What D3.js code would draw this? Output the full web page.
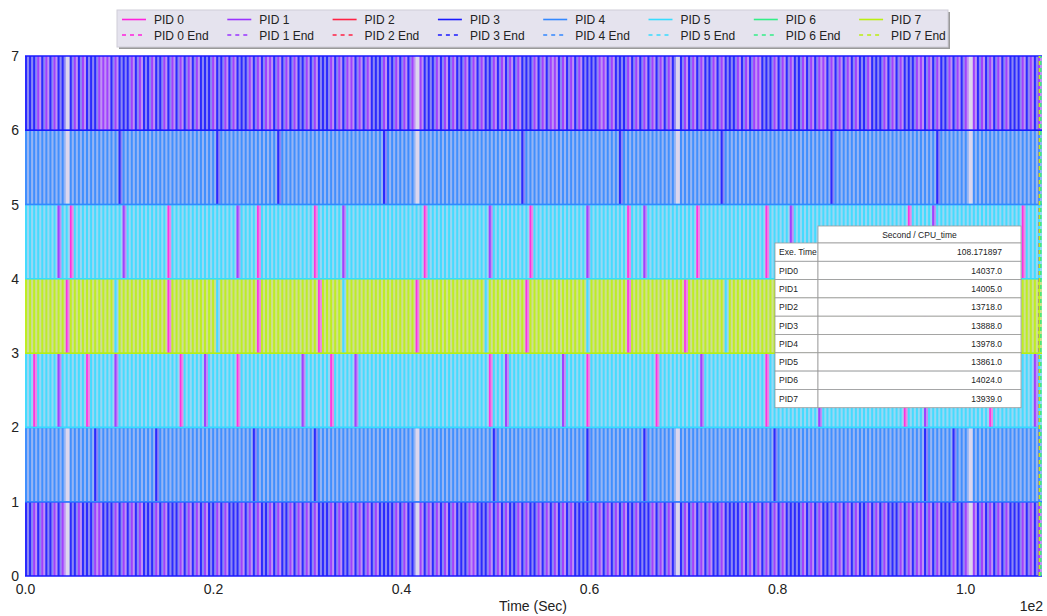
<!DOCTYPE html>
<html>
<head>
<meta charset="UTF-8">
<title>PID schedule</title>
<script src="https://cdn.jsdelivr.net/npm/d3@7"></script>
<style>
  body { margin: 0; background: #fff; }
  text { font-family: "Liberation Sans", Arial, Helvetica, sans-serif; fill: #222; }
</style>
</head>
<body>
<div id="app"></div>
<script>
    // processes and their colours
    var pids = ["PID 0", "PID 1", "PID 2", "PID 3", "PID 4", "PID 5", "PID 6", "PID 7"];
    var pidColors = ["#ff22dd", "#9933ff", "#ff2244", "#1a1aff", "#3388ff", "#36dcff", "#33ee88", "#bbee11"];

    // total run time (sec) and end time of each pid
    var exeTime = 108.171897;
    var endTimes = [107.9, 107.95, 107.9, 107.95, 107.9, 107.95, 108.05, 107.9];

    // time slices per level band (0-1 ... 6-7); digit = pid that ran, "." = idle
    var bandRuns = [
        "3313133131 .331333113 3313131313 3313133313 1313133131 3331313133 1313313131 3133313133 1313131333 313133.131 3131313331 1333131313 3131331313 1313133331 3131313133 1333131313 .313131313 3133331313 1313131333 3131313313 1313133131 3133313131 1313133313 31.1313131 3133313131",
        "4444444444 .444444344 4444444444 4434444444 4444444444 4444443444 4444444444 4344444444 4444444444 444444.444 4444444444 4444434444 4444444444 4444444434 4444444444 4434444444 .444444444 4444444444 4444344444 4444444444 4444444444 4444444444 4344444434 44.4444444 4444444444",
        "5505555515 5555505555 5515555555 5555555505 5555155555 5505555555 5555555515 5555505555 5155555555 5555555555 5555555555 5555055515 5555555555 5515555505 5555555555 5555505555 5555551555 5555555555 5505555555 5555515555 5555555555 5555550555 5155555555 5555555055 5555555515",
        "7777777777 0777777777 7757777777 7777707777 7777777577 7777777077 7777777777 7707777757 7777777777 7777770777 7777777777 7775777777 7770777777 7777777757 7777777707 7777777777 7707777777 7757777777 7777707777 7777777777 7777777077 7777757777 7077777777 7777777777 7777777777",
        "5555555515 5055555555 5555155555 5555505555 5555555555 5515555055 5555555555 5055555515 5555555555 5555555505 5555555555 5555155555 5555055555 5555555515 5555555505 5515555555 5555505555 5555555555 5505555515 5555555555 5555555555 5555555055 5551555555 5555555555 5555505555",
        "4444444444 .444444444 4443444444 4444444444 4444444344 4444444444 4434444444 4444444444 4444444434 444444.444 4444444444 4444444444 4434444444 4444444444 4444443444 4444444444 .444444444 4344444444 4444444444 4444444434 4444444444 4444444444 4444344444 44.4444444 4444444444",
        "3331313133 .313133311 1313331313 3133131313 1313331331 3133313131 1313131331 3133313131 1313133313 313131.133 3131313313 1313313131 3133313131 1313131333 3113133313 1313131313 .313131331 3133313131 1333131313 3131311313 1313133133 3131313331 1313133131 31.1313131 3133313131"
    ];

    // table beside the plot
    var tableHeader = "Second / CPU_time";
    var tableLabels = ["Exe. Time", "PID0", "PID1", "PID2", "PID3", "PID4", "PID5", "PID6", "PID7"];
    var tableValues = ["108.171897", "14037.0", "14005.0", "13718.0", "13888.0", "13978.0", "13861.0", "14024.0", "13939.0"];

    var xTicks = [0, 20, 40, 60, 80, 100];
    var yTicks = [0, 1, 2, 3, 4, 5, 6, 7];

    var width = 1047, height = 616;
    var svg = d3.select("#app").append("svg")
        .attr("width", width)
        .attr("height", height);

    var x = d3.scaleLinear().domain([0, exeTime]).range([25, 1042]);
    var y = d3.scaleLinear().domain([0, 7]).range([576, 56]);

    // plot background
    svg.append("rect")
        .attr("x", x(0)).attr("y", y(7))
        .attr("width", x(exeTime) - x(0)).attr("height", y(0) - y(7))
        .attr("fill", "#dcd6ee");

    // slices
    bandRuns.forEach(function (run, band) {
        var seq = run.replace(/ /g, "").split("");
        var slot = exeTime / seq.length;
        var slices = seq.map(function (c, i) {
            return { pid: c === "." ? -1 : +c, t0: i * slot, t1: (i + 1) * slot };
        }).filter(function (d) { return d.pid >= 0; });

        var g = svg.append("g");
        g.selectAll("rect").data(slices).enter().append("rect")
            .attr("x", function (d) { return x(d.t0); })
            .attr("width", function (d) { return x(d.t1) - x(d.t0); })
            .attr("y", y(band + 1))
            .attr("height", y(band) - y(band + 1))
            .attr("fill", function (d) { return pidColors[d.pid]; })
            .attr("fill-opacity", 0.42);
        g.selectAll("line").data(slices).enter().append("line")
            .attr("x1", function (d) { return x(d.t0) + 1; })
            .attr("x2", function (d) { return x(d.t0) + 1; })
            .attr("y1", y(band + 1))
            .attr("y2", y(band))
            .attr("stroke", function (d) { return pidColors[d.pid]; })
            .attr("stroke-width", function (d) { return d.pid === 0 ? 1.6 : 2; })
            .attr("stroke-opacity", 0.85);
        // square-wave edges
        var main = d3.rollups(slices, function (v) { return v.length; }, function (d) { return d.pid; })
            .sort(function (a, b) { return b[1] - a[1]; })[0][0];
        [band, band + 1].forEach(function (lv) {
            g.append("line")
                .attr("x1", x(0)).attr("x2", x(exeTime))
                .attr("y1", y(lv)).attr("y2", y(lv))
                .attr("stroke", pidColors[main])
                .attr("stroke-width", 1.5);
        });
    });

    // end markers
    svg.append("g").selectAll("line").data(endTimes).enter().append("line")
        .attr("x1", function (d) { return x(d); })
        .attr("x2", function (d) { return x(d); })
        .attr("y1", y(0)).attr("y2", y(7))
        .attr("stroke", function (d, i) { return pidColors[i]; })
        .attr("stroke-width", 1.5)
        .attr("stroke-dasharray", "4,3");

    // axes
    var xAxis = svg.append("g")
        .attr("transform", "translate(0," + y(0) + ")")
        .call(d3.axisBottom(x).tickValues(xTicks).tickSize(0).tickPadding(8)
            .tickFormat(function (d) { return (d / 100).toFixed(1); }));
    var yAxis = svg.append("g")
        .attr("transform", "translate(" + x(0) + ",0)")
        .call(d3.axisLeft(y).tickValues(yTicks).tickSize(0).tickPadding(6)
            .tickFormat(d3.format("d")));
    [xAxis, yAxis].forEach(function (a) {
        a.select(".domain").remove();
        a.selectAll("text").attr("font-size", 14).style("fill", "#222")
            .attr("font-family", "Liberation Sans, Arial, sans-serif");
    });

    svg.append("text").attr("x", 533).attr("y", 611)
        .attr("text-anchor", "middle").attr("font-size", 14)
        .text("Time (Sec)");
    svg.append("text").attr("x", 1043).attr("y", 611)
        .attr("text-anchor", "end").attr("font-size", 14)
        .text("1e2");

    // legend
    var lg = svg.append("g").attr("transform", "translate(117,10)");
    lg.append("rect").attr("x", 2).attr("y", 2).attr("width", 831).attr("height", 37)
        .attr("fill", "#9a9a9a");
    lg.append("rect").attr("width", 831).attr("height", 37)
        .attr("fill", "#e5e3ee").attr("stroke", "#cfcdd8");
    pids.forEach(function (p, i) {
        var cx = 5 + i * 105.3;
        [0, 1].forEach(function (row) {
            var ly = row === 0 ? 9.5 : 25;
            lg.append("line")
                .attr("x1", cx).attr("x2", cx + 24)
                .attr("y1", ly).attr("y2", ly)
                .attr("stroke", pidColors[i])
                .attr("stroke-width", 1.6)
                .attr("stroke-dasharray", row === 0 ? null : "4,4");
            lg.append("text")
                .attr("x", cx + 32).attr("y", ly + 4.5)
                .attr("font-size", 12)
                .text(row === 0 ? p : p + " End");
        });
    });

    // table
    var tb = svg.append("g");
    var c0 = 775, c1 = 818, c2 = 1021, tTop = 226, hh = 17, rh = 18.3;
    tb.append("rect").attr("x", c1).attr("y", tTop).attr("width", c2 - c1).attr("height", hh)
        .attr("fill", "#fff").attr("stroke", "#999").attr("stroke-width", 0.8);
    tb.append("text").attr("x", (c1 + c2) / 2).attr("y", tTop + 11.5)
        .attr("text-anchor", "middle").attr("font-size", 8.5).text(tableHeader);
    tableLabels.forEach(function (lab, i) {
        var ry = tTop + hh + i * rh;
        tb.append("rect").attr("x", c0).attr("y", ry).attr("width", c1 - c0).attr("height", rh)
            .attr("fill", "#fff").attr("stroke", "#999").attr("stroke-width", 0.8);
        tb.append("rect").attr("x", c1).attr("y", ry).attr("width", c2 - c1).attr("height", rh)
            .attr("fill", "#fff").attr("stroke", "#999").attr("stroke-width", 0.8);
        tb.append("text").attr("x", c0 + 4).attr("y", ry + 12.3)
            .attr("font-size", 8.5).text(lab);
        tb.append("text").attr("x", 1002).attr("y", ry + 12.3)
            .attr("text-anchor", "end").attr("font-size", 8.5).text(tableValues[i]);
    });
</script>
</body>
</html>
